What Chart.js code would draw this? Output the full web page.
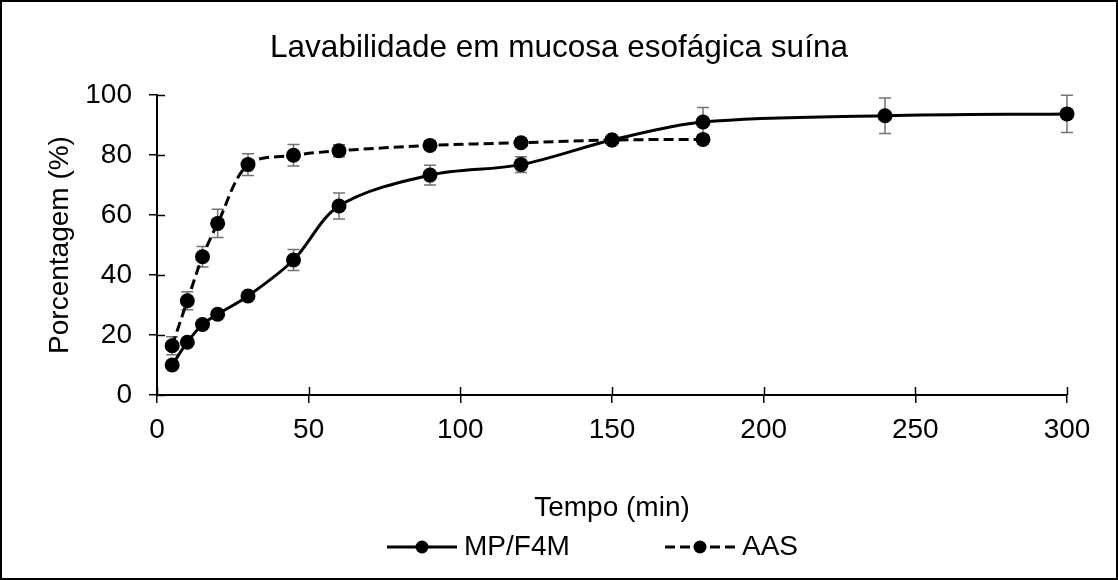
<!DOCTYPE html>
<html>
<head>
<meta charset="utf-8">
<script src="https://cdn.jsdelivr.net/npm/chart.js@4.4.1/dist/chart.umd.min.js"></script>
<style>
  html, body { margin: 0; padding: 0; background: #fff; }
  #wrap { width: 1118px; height: 580px; }
</style>
</head>
<body>
<div id="wrap"><canvas id="grafica" width="1118" height="580"></canvas></div>
<script>
// datos
var tempoMP    = [5, 10, 15, 20, 30, 45, 60, 90, 120, 150, 180, 240, 300];
var valoresMP  = [10, 17.6, 23.5, 26.9, 33, 45, 63, 73.3, 76.8, 85, 91, 93.1, 93.7];
var erroMP     = [1, 1, 1, 1, 1, 3.5, 4.3, 3.3, 2.6, 1, 4.8, 5.9, 6.2];
var tempoAAS   = [5, 10, 15, 20, 30, 45, 60, 90, 120, 150, 180];
var valoresAAS = [16.4, 31.4, 46.1, 57.2, 76.8, 79.9, 81.4, 83.2, 84.1, 85, 85.2];
var erroAAS    = [3, 3, 3.4, 4.7, 3.6, 3.6, 2, 1.5, 1.5, 1, 1.5];
var ticksX = [0, 50, 100, 150, 200, 250, 300];
var ticksY = [0, 20, 40, 60, 80, 100];

var fonte = '"Liberation Sans", Arial, sans-serif';
Chart.defaults.font.family = fonte;
Chart.defaults.color = '#000';

function pares(xs, ys) {
    return xs.map(function (t, i) { return {x: t, y: ys[i]}; });
}

// fondo blanco y marco exterior
var marco = {
    id: 'marco',
    beforeDraw: function (chart) {
        var ctx = chart.ctx;
        ctx.save();
        ctx.fillStyle = '#fff';
        ctx.fillRect(0, 0, chart.width, chart.height);
        ctx.restore();
    },
    afterDraw: function (chart) {
        var ctx = chart.ctx;
        ctx.save();
        ctx.strokeStyle = '#000';
        ctx.lineWidth = 2;
        ctx.strokeRect(1, 1, chart.width - 2, chart.height - 2);
        ctx.restore();
    }
};

// mitad interior de las marcas de los ejes (estilo cruzado)
var marcasCruz = {
    id: 'marcasCruz',
    beforeDatasetsDraw: function (chart) {
        var ctx = chart.ctx, sx = chart.scales.x, sy = chart.scales.y;
        var area = chart.chartArea;
        ctx.save();
        ctx.strokeStyle = '#000';
        ctx.lineWidth = 1.5;
        ctx.beginPath();
        sx.ticks.forEach(function (t) {
            var px = Math.round(sx.getPixelForValue(t.value)) + 0.5;
            ctx.moveTo(px, area.bottom);
            ctx.lineTo(px, area.bottom - 8);
        });
        sy.ticks.forEach(function (t) {
            var py = Math.round(sy.getPixelForValue(t.value)) + 0.5;
            ctx.moveTo(area.left, py);
            ctx.lineTo(area.left + 8, py);
        });
        ctx.stroke();
        ctx.restore();
    }
};

// barras de error
var barrasErro = {
    id: 'barrasErro',
    beforeDatasetsDraw: function (chart) {
        var ctx = chart.ctx, sx = chart.scales.x, sy = chart.scales.y;
        ctx.save();
        ctx.strokeStyle = '#737373';
        ctx.lineWidth = 1.5;
        chart.data.datasets.forEach(function (ds) {
            ds.data.forEach(function (p, j) {
                var e = ds.erro[j];
                var px = sx.getPixelForValue(p.x);
                var top = sy.getPixelForValue(p.y + e);
                var bot = sy.getPixelForValue(p.y - e);
                ctx.beginPath();
                ctx.moveTo(px, top); ctx.lineTo(px, bot);
                ctx.moveTo(px - 6, top); ctx.lineTo(px + 6, top);
                ctx.moveTo(px - 6, bot); ctx.lineTo(px + 6, bot);
                ctx.stroke();
            });
        });
        ctx.restore();
    }
};

// leyenda tipo Excel: linea + marcador
var leyendaX = [387, 665];
var leyenda = {
    id: 'leyenda',
    afterDraw: function (chart) {
        var ctx = chart.ctx, y = 547;
        ctx.save();
        chart.data.datasets.forEach(function (ds, i) {
            var x0 = leyendaX[i];
            ctx.strokeStyle = ds.borderColor;
            ctx.lineWidth = ds.borderWidth;
            ctx.setLineDash(ds.borderDash || []);
            ctx.beginPath();
            ctx.moveTo(x0, y); ctx.lineTo(x0 + 70, y);
            ctx.stroke();
            ctx.setLineDash([]);
            ctx.fillStyle = ds.pointBackgroundColor;
            ctx.beginPath();
            ctx.arc(x0 + 35, y, 6.5, 0, Math.PI * 2);
            ctx.fill();
            ctx.font = '28px ' + fonte;
            ctx.textAlign = 'left';
            ctx.textBaseline = 'middle';
            ctx.fillText(ds.label, x0 + 77, y);
        });
        ctx.restore();
    }
};

var ctx = document.getElementById('grafica').getContext('2d');
var grafica = new Chart(ctx, {
    type: 'line',
    data: {
        datasets: [{
            label: 'MP/F4M',
            data: pares(tempoMP, valoresMP),
            erro: erroMP,
            borderColor: '#000',
            borderWidth: 3,
            tension: 0.33,
            pointRadius: 7.5,
            pointBorderWidth: 0,
            pointBackgroundColor: '#000',
            clip: false
        }, {
            label: 'AAS',
            data: pares(tempoAAS, valoresAAS),
            erro: erroAAS,
            borderColor: '#000',
            borderWidth: 3,
            borderDash: [10, 5],
            tension: 0.33,
            pointRadius: 7.5,
            pointBorderWidth: 0,
            pointBackgroundColor: '#000',
            clip: false
        }]
    },
    options: {
        responsive: false,
        animation: false,
        layout: { padding: 0 },
        plugins: {
            legend: { display: false },
            tooltip: { enabled: false },
            title: {
                display: true,
                text: 'Lavabilidade em mucosa esofágica suína',
                color: '#000',
                font: { size: 31.5, weight: 'normal' },
                padding: { top: 29, bottom: 28.2 }
            }
        },
        scales: {
            x: {
                type: 'linear',
                min: 0, max: 300,
                afterBuildTicks: function (axis) {
                    axis.ticks = ticksX.map(function (v) { return {value: v}; });
                },
                afterFit: function (s) { s.height = 185; },
                border: { color: '#000', width: 2 },
                grid: { drawOnChartArea: false, color: '#000', lineWidth: 1.5, tickLength: 8 },
                ticks: { color: '#000', font: { size: 28 }, padding: 10, maxRotation: 0 },
                title: {
                    display: true, text: 'Tempo (min)', color: '#000',
                    font: { size: 28 }, padding: { top: 0, bottom: 55 }
                }
            },
            y: {
                min: 0, max: 100,
                afterBuildTicks: function (axis) {
                    axis.ticks = ticksY.map(function (v) { return {value: v}; });
                },
                afterFit: function (s) { s.width = 157; },
                border: { color: '#000', width: 2 },
                grid: { drawOnChartArea: false, color: '#000', lineWidth: 1.5, tickLength: 8 },
                ticks: { color: '#000', font: { size: 28 }, padding: 17 },
                title: {
                    display: true, text: 'Porcentagem (%)', color: '#000',
                    font: { size: 28 }, padding: { top: 43, bottom: 0 }
                }
            },
            // eje vacio a la derecha: solo reserva el margen
            margemDireita: {
                position: 'right',
                min: 0, max: 100,
                afterFit: function (s) { s.width = 51; },
                border: { display: false },
                grid: { display: false },
                ticks: { display: false }
            }
        }
    },
    plugins: [marco, marcasCruz, barrasErro, leyenda]
});
</script>
</body>
</html>
